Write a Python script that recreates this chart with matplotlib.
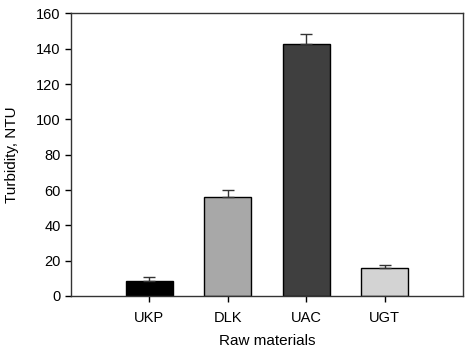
import numpy as np
import matplotlib
matplotlib.use("Agg")
import matplotlib.pyplot as plt

plt.rcParams['font.family'] = ['Liberation Sans', 'DejaVu Sans']

# dados
materials = ["UKP", "DLK", "UAC", "UGT"]
turbidity = [8.5, 56.0, 143.0, 16.0]
erro = [2.0, 4.0, 5.5, 1.5]
cores = ["#000000", "#a8a8a8", "#3f3f3f", "#d3d3d3"]

fig = plt.figure(figsize=(4.69, 3.59), dpi=100)
ax = fig.add_axes([0.1514, 0.1755, 0.8358, 0.7869])

x = np.arange(len(materials))
ax.bar(x, turbidity, width=0.6, color=cores, edgecolor="black", linewidth=1.0, zorder=2)
ax.errorbar(x, turbidity, yerr=[np.zeros(len(erro)), erro], fmt="none",
            ecolor="#333333", elinewidth=1.0, capsize=4, capthick=1.0, zorder=3)

ax.set_xlim(-1, 4)
ax.set_ylim(0, 160)
ax.set_yticks(np.arange(0, 161, 20))
ax.set_xticks(x)
ax.set_xticklabels(materials)
ax.tick_params(axis="both", direction="out", length=4, labelsize=10.5, width=1.0)
ax.tick_params(axis="x", pad=7)
for s in ax.spines.values():
    s.set_linewidth(1.0)
    s.set_color("#333333")

ax.set_xlabel("Raw materials", fontsize=11, labelpad=6)
ax.set_ylabel("Turbidity, NTU", fontsize=11, labelpad=12)

fig.savefig("out.png", dpi=100)
